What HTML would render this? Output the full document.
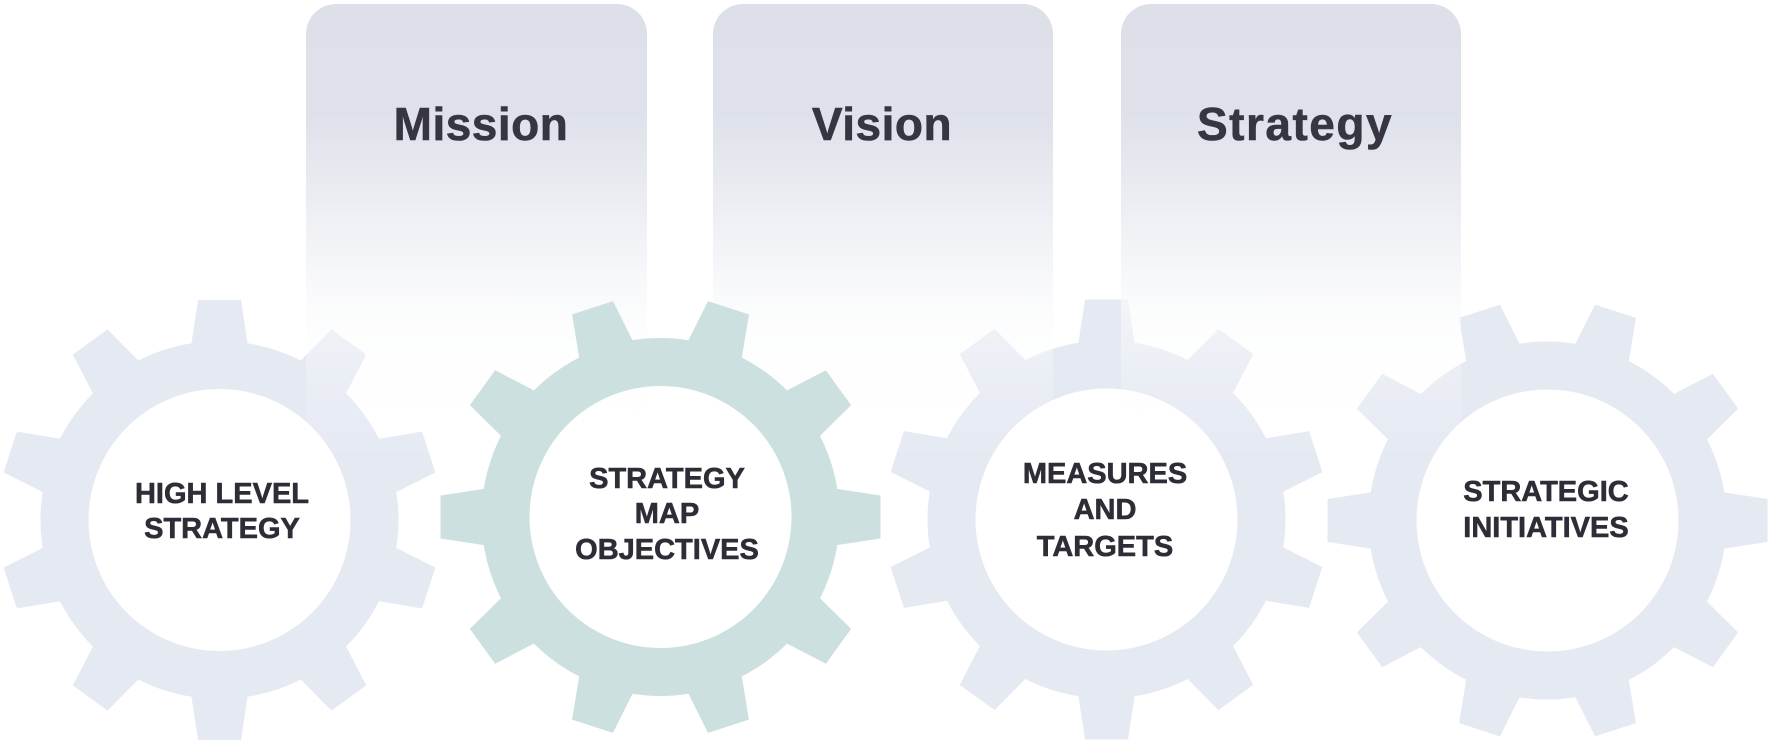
<!DOCTYPE html>
<html>
<head>
<meta charset="utf-8">
<style>
  html, body { margin: 0; padding: 0; background: #ffffff; width: 1772px; height: 744px; overflow: hidden; }
  svg { display: block; position: absolute; left: 0; top: 0; }
  .title { font-family: "Liberation Sans", Arial, sans-serif; font-weight: bold; font-size: 46px; fill: #363541; stroke: #363541; stroke-width: 0.6px; }
  .lbl { font-family: "Liberation Sans", Arial, sans-serif; font-weight: bold; font-size: 29px; fill: #2e2d37; stroke: #2e2d37; stroke-width: 0.6px; }
</style>
</head>
<body>
<svg width="1772" height="744" viewBox="0 0 1772 744" xmlns="http://www.w3.org/2000/svg">
  <defs>
    <linearGradient id="boxg" x1="0" y1="0" x2="0" y2="1">
      <stop offset="0" stop-color="rgb(221,224,233)" stop-opacity="1"/>
      <stop offset="0.24" stop-color="rgb(222,225,234)" stop-opacity="1"/>
      <stop offset="0.45" stop-color="rgb(237,238,243)" stop-opacity="1"/>
      <stop offset="0.6" stop-color="rgb(246,247,250)" stop-opacity="0.9"/>
      <stop offset="0.72" stop-color="rgb(250,251,252)" stop-opacity="0.45"/>
      <stop offset="0.86" stop-color="rgb(252,252,253)" stop-opacity="0.18"/>
      <stop offset="1" stop-color="rgb(255,255,255)" stop-opacity="0"/>
    </linearGradient>
    <g id="teeth">
      <polygon points="-30.6,-160 -21.5,-220 21.5,-220 30.6,-160" transform="rotate(0)"/>
      <polygon points="-30.6,-160 -21.5,-220 21.5,-220 30.6,-160" transform="rotate(36)"/>
      <polygon points="-30.6,-160 -21.5,-220 21.5,-220 30.6,-160" transform="rotate(72)"/>
      <polygon points="-30.6,-160 -21.5,-220 21.5,-220 30.6,-160" transform="rotate(108)"/>
      <polygon points="-30.6,-160 -21.5,-220 21.5,-220 30.6,-160" transform="rotate(144)"/>
      <polygon points="-30.6,-160 -21.5,-220 21.5,-220 30.6,-160" transform="rotate(180)"/>
      <polygon points="-30.6,-160 -21.5,-220 21.5,-220 30.6,-160" transform="rotate(216)"/>
      <polygon points="-30.6,-160 -21.5,-220 21.5,-220 30.6,-160" transform="rotate(252)"/>
      <polygon points="-30.6,-160 -21.5,-220 21.5,-220 30.6,-160" transform="rotate(288)"/>
      <polygon points="-30.6,-160 -21.5,-220 21.5,-220 30.6,-160" transform="rotate(324)"/>
      <path fill-rule="evenodd" d="M -179,0 a179,179 0 1,0 358,0 a179,179 0 1,0 -358,0 Z M -131,0 a131,131 0 1,0 262,0 a131,131 0 1,0 -262,0 Z"/>
    </g>
  </defs>

  <!-- gray gears (under boxes) -->
  <use href="#teeth" fill="#e5e9f2" transform="translate(219.5,520)"/>
  <use href="#teeth" fill="#e5e9f2" transform="translate(1106.5,519.5)"/>
  <use href="#teeth" fill="#e5e9f2" transform="translate(1547.5,520.5) rotate(18)"/>

  <!-- boxes -->
  <rect x="306" y="4" width="341" height="456" rx="30" ry="30" fill="url(#boxg)"/>
  <rect x="713" y="4" width="340" height="456" rx="30" ry="30" fill="url(#boxg)"/>
  <rect x="1121" y="4" width="340" height="456" rx="30" ry="30" fill="url(#boxg)"/>

  <!-- teal gear (on top) -->
  <use href="#teeth" fill="#cce0e0" transform="translate(660.5,517) rotate(18)"/>

  <!-- titles -->
  <text class="title" x="481" y="140" text-anchor="middle" letter-spacing="0.5">Mission</text>
  <text class="title" x="882" y="140" text-anchor="middle" letter-spacing="0.5">Vision</text>
  <text class="title" x="1295" y="140" text-anchor="middle" letter-spacing="1.5">Strategy</text>

  <!-- gear labels -->
  <text class="lbl" x="222" y="503" text-anchor="middle">HIGH LEVEL</text>
  <text class="lbl" x="222" y="538" text-anchor="middle">STRATEGY</text>

  <text class="lbl" x="667" y="488" text-anchor="middle">STRATEGY</text>
  <text class="lbl" x="667" y="523" text-anchor="middle">MAP</text>
  <text class="lbl" x="667" y="559" text-anchor="middle">OBJECTIVES</text>

  <text class="lbl" x="1105" y="483" text-anchor="middle">MEASURES</text>
  <text class="lbl" x="1105" y="519" text-anchor="middle">AND</text>
  <text class="lbl" x="1105" y="556" text-anchor="middle">TARGETS</text>

  <text class="lbl" x="1546" y="501" text-anchor="middle">STRATEGIC</text>
  <text class="lbl" x="1546" y="537" text-anchor="middle">INITIATIVES</text>
</svg>
</body>
</html>
